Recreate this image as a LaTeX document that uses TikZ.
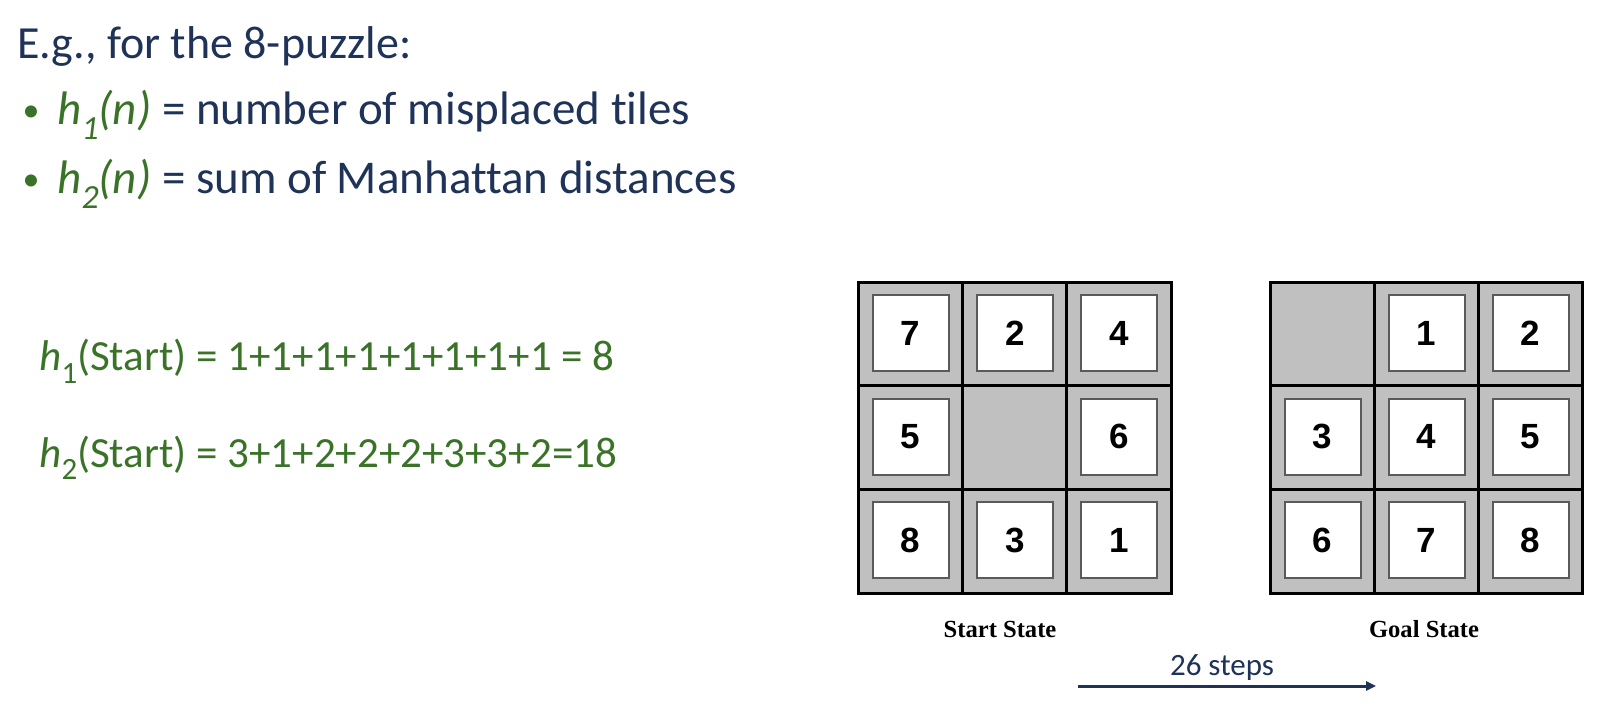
\documentclass[tikz,border=0pt]{standalone}
\usepackage{fontspec}
\usepackage{graphicx}
\setmainfont{Carlito}[Ligatures={NoCommon}]
\newfontfamily\tilefont{Liberation Sans}
\newfontfamily\capfont{Liberation Serif}
\usetikzlibrary{arrows.meta}
\definecolor{navy}{HTML}{1F3358}
\definecolor{hgreen}{HTML}{3A7328}
\definecolor{gridgray}{HTML}{C0C0C0}
\definecolor{tileedge}{HTML}{5A5A5A}
\newcommand\lowsub[1]{\raisebox{-0.3em}{\scalebox{0.72}{#1}}}
\tikzset{
  txt/.style={anchor=base west, inner sep=0pt},
  big/.style={font=\fontsize{23}{23}\selectfont},
  blt/.style={font=\fontsize{23.5}{23.5}\selectfont},
  mid/.style={font=\fontsize{21.5}{21.5}\selectfont},
  dot/.style={anchor=base, inner sep=0pt, text=hgreen, font=\fontsize{17}{17}\selectfont},
  tile/.style={draw=tileedge, fill=white, line width=1pt, minimum width=38pt, minimum height=38pt, inner sep=0pt, font=\tilefont\bfseries\fontsize{17.5}{17.5}\selectfont},
  gridline/.style={line width=1.5pt, draw=black},
  caption/.style={inner sep=0pt, anchor=base, font=\capfont\bfseries\fontsize{12.3}{12.3}\selectfont},
}
\begin{document}
\begin{tikzpicture}[x=0.5pt, y=-0.5pt]
\useasboundingbox (0,0) rectangle (1604,710);
% text block
\node[txt, big, text=navy] (title) at (17,59) {E.g., for the 8-puzzle:};
\node[dot] (b1) at (31,122) {•};
\node[txt, blt, text=navy] (l1) at (57,125) {{\color{hgreen}\textit{h\lowsub{1}(n)}} = number of misplaced tiles};
\node[dot] (b2) at (31,191) {•};
\node[txt, blt, text=navy] (l2) at (57,194) {{\color{hgreen}\textit{h\lowsub{2}(n)}} = sum of Manhattan distances};
\node[txt, mid, text=hgreen] (e1) at (39,371) {\textit{h}\lowsub{1}(Start) = 1+1+1+1+1+1+1+1 = 8};
\node[txt, mid, text=hgreen] (e2) at (39,467) {\textit{h}\lowsub{2}(Start) = 3+1+2+2+2+3+3+2=18};
% start grid
\fill[gridgray] (858,283) rectangle (1171,593);
\foreach \v/\c/\r in {7/0/0,2/1/0,4/2/0,5/0/1,6/2/1,8/0/2,3/1/2,1/2/2}
  \node[tile] (s\v) at ({858+104.33*\c+52.5},{283+103.33*\r+50.5}) {\v};
\draw[gridline] (858,283) rectangle (1171,593);
\draw[gridline] (962,283) -- (962,593) (1066,283) -- (1066,593)
  (858,386) -- (1171,386) (858,489) -- (1171,489);
% goal grid
\fill[gridgray] (1270,283) rectangle (1582,593);
\foreach \v/\c/\r in {1/1/0,2/2/0,3/0/1,4/1/1,5/2/1,6/0/2,7/1/2,8/2/2}
  \node[tile] (g\v) at ({1270+104*\c+52.5},{283+103.33*\r+50.5}) {\v};
\draw[gridline] (1270,283) rectangle (1582,593);
\draw[gridline] (1374,283) -- (1374,593) (1478,283) -- (1478,593)
  (1270,386) -- (1582,386) (1270,489) -- (1582,489);
% captions
\node[caption] (cs) at (1000,637) {Start State};
\node[caption] (cg) at (1424,637) {Goal State};
% arrow
\coordinate (a0) at (1078,686);
\coordinate (a1) at (1376,686);
\draw[navy, line width=1.5pt, -{Triangle[length=5pt,width=4.5pt]}] (a0) -- (a1);
\node[inner sep=0pt, anchor=base, text=navy, font=\fontsize{15.5}{15.5}\selectfont] (steps) at (1222,675) {26 steps};
\end{tikzpicture}
\end{document}
